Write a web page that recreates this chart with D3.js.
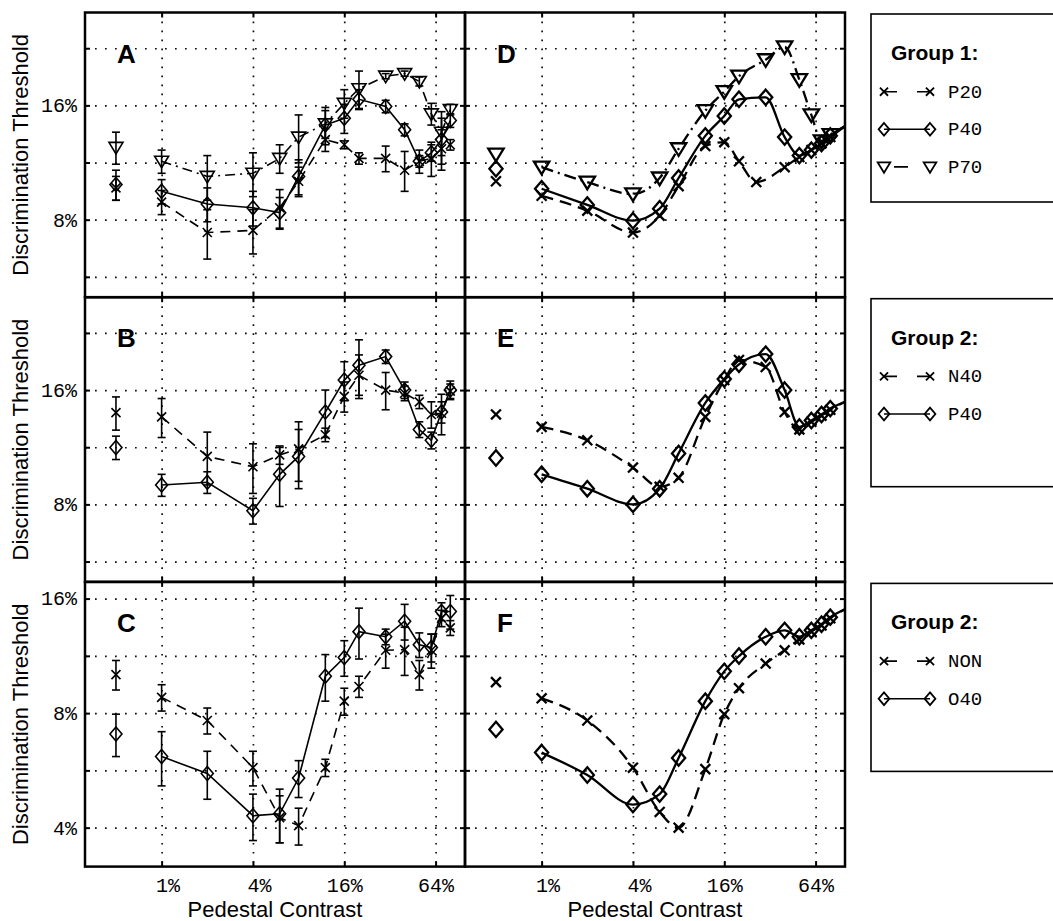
<!DOCTYPE html>
<html><head><meta charset="utf-8">
<script src="https://cdn.jsdelivr.net/npm/d3@7"></script>
<style>body{margin:0;background:#fff}svg{display:block}</style>
</head><body>
<svg id="c" width="1053" height="921"></svg>
<script>
// ---------- data ----------
// pedestal contrasts (%); 0 = no pedestal (plotted left of the 1% line)
const contrast      = [0, 1, 2, 4, 6, 8, 12, 16, 20, 30, 40, 50, 60, 70, 80];
const modelContrast = [0, 1, 2, 4, 6, 8, 12, 16, 20, 30, 40, 50, 60, 70, 80, 100];
const modelContrastDP20 = [0, 1, 2, 4, 6, 8, 12, 16, 20, 26, 40, 50, 60, 70, 80, 100];
const zeroPedestalPlotAt = 0.5;

const gridContrast = [1, 4, 16, 64];
const xTickLabels = ["1%", "4%", "16%", "64%"];
const gridThreshTop = [5.657, 8, 11.314, 16, 22.627];
const gridThreshBottom = [4, 5.657, 8, 11.314, 16];
const labelThreshTop = [8, 16];
const labelThreshBottom = [4, 8, 16];

// Panel A (data, group 1)
const aP20    = [9.7, 8.9, 7.4, 7.5, 8.6, 10.1, 13.0, 12.6, 11.6, 11.6, 10.8, 11.4, 11.6, 12.3, 12.6];
const aP20Err = [0.7, 0.65, 1.1, 1.0, 1.0, 0.9, 0.9, 0.3, 0.4, 0.9, 1.3, 0.8, 1.2, 1.5, 0.4];
const aP40    = [9.9, 9.5, 8.8, 8.6, 8.35, 10.4, 14.2, 14.8, 16.6, 15.9, 13.8, 11.4, 12.0, 13.0, 14.6];
const aP40Err = [0.9, 0.7, 0.9, 0.9, 0.8, 1.1, 1.6, 1.3, 1.0, 0.6, 0.5, 0.4, 0.6, 1.8, 0.6];
const aP70    = [12.4, 11.4, 10.4, 10.6, 11.6, 13.2, 14.3, 16.2, 17.7, 19.1, 19.4, 18.5, 15.2, 13.6, 15.6];
const aP70Err = [1.2, 0.8, 1.4, 1.4, 1.0, 1.9, 1.2, 1.4, 2.0, 0.3, 0.3, 0.5, 1.0, 1.8, 0.5];
// Panel B (data, group 2)
const bN40    = [13.95, 13.6, 10.7, 10.05, 10.8, 11.2, 12.2, 15.4, 17.5, 16.0, 15.7, 14.9, 13.8, 13.9, 15.9];
const bN40Err = [1.4, 1.6, 1.7, 1.5, 0.6, 2.0, 0.5, 1.4, 2.3, 1.8, 0.7, 0.6, 1.1, 1.7, 0.7];
const bP40    = [11.3, 9.0, 9.15, 7.7, 9.6, 10.7, 14.0, 17.0, 18.6, 19.6, 16.0, 12.6, 11.8, 14.0, 16.0];
const bP40Err = [0.8, 0.6, 0.6, 0.6, 1.7, 1.9, 2.0, 2.0, 3.1, 0.8, 0.8, 0.6, 0.6, 0.9, 0.9];
// Panel C (data, group 2)
const cNON    = [10.1, 8.8, 7.65, 5.75, 4.25, 4.05, 5.75, 8.6, 9.4, 11.7, 11.75, 10.1, 11.7, 14.2, 13.4];
const cNONErr = [0.9, 0.7, 0.6, 0.6, 0.6, 0.45, 0.3, 0.7, 0.6, 1.2, 1.7, 0.9, 1.2, 0.7, 0.6];
const cO40    = [7.05, 6.15, 5.55, 4.3, 4.35, 5.4, 10.0, 11.2, 13.1, 12.7, 13.95, 12.1, 11.9, 14.8, 14.8];
const cO40Err = [0.9, 1.0, 0.8, 0.6, 0.7, 0.6, 1.4, 1.2, 2.0, 0.6, 1.5, 0.9, 1.0, 0.8, 1.5];
// Panel D (model, group 1)
const dP20 = [10.1, 9.25, 8.45, 7.4, 8.2, 9.8, 12.5, 12.8, 11.4, 10.05, 11.0, 11.7, 12.2, 12.7, 13.2, 14.1];
const dP40 = [10.9, 9.65, 8.75, 7.95, 8.55, 10.3, 13.3, 15.0, 16.6, 16.8, 13.2, 11.8, 12.2, 12.7, 13.3, 14.1];
const dP70 = [11.9, 11.0, 10.05, 9.35, 10.3, 12.3, 15.5, 17.4, 19.1, 21.1, 22.8, 18.7, 15.1, 12.9, 13.4, 14.1];
// Panel E (model, group 2)
const eN40 = [13.8, 12.8, 11.8, 10.0, 8.9, 9.4, 13.6, 17.0, 19.2, 18.4, 14.0, 12.6, 13.2, 13.7, 14.2, 14.9];
const eP40 = [10.6, 9.6, 8.8, 8.0, 8.8, 10.9, 14.8, 17.1, 18.7, 19.9, 16.0, 12.8, 13.3, 13.8, 14.3, 14.9];
// Panel F (model, group 2)
const fNON = [9.65, 8.75, 7.65, 5.75, 4.4, 4.0, 5.7, 7.95, 9.3, 10.8, 11.7, 12.5, 13.1, 13.6, 14.2, 15.0];
const fO40 = [7.25, 6.3, 5.5, 4.6, 4.9, 6.1, 8.6, 10.3, 11.3, 12.7, 13.2, 12.7, 13.2, 13.7, 14.3, 15.0];

const legendGroups = [
  {title: "Group 1:", items: [["P20", "x", "dash"], ["P40", "diamond", "solid"], ["P70", "tri", "dashdot"]]},
  {title: "Group 2:", items: [["N40", "x", "dash"], ["P40", "diamond", "solid"]]},
  {title: "Group 2:", items: [["NON", "x", "dash"], ["O40", "diamond", "solid"]]}
];

// ---------- layout ----------
const svg = d3.select("#c");
const W = 380, H = 284.7;
const colX = [85, 465];
const rowY = [12.5, 297.2, 581.9];
const MONO = "'Liberation Mono', 'DejaVu Sans Mono', monospace";
const SANS = "'Liberation Sans', Arial, sans-serif";

const x = d3.scaleLog().domain([0.3125, 100]).range([0, W]);
const yTop = d3.scaleLog().domain([5, 28.1]).range([H, 0]);
const yBot = d3.scaleLog().domain([3.16, 17.7]).range([H, 0]);
const xPos = c => x(c === 0 ? zeroPedestalPlotAt : c);

const panels = [
  {id: "A", col: 0, row: 0, y: yTop, model: false, series: [
    {xs: contrast, v: aP20, e: aP20Err, m: "x", d: "dash"},
    {xs: contrast, v: aP40, e: aP40Err, m: "diamond", d: "solid"},
    {xs: contrast, v: aP70, e: aP70Err, m: "tri", d: "dashdot"}]},
  {id: "B", col: 0, row: 1, y: yTop, model: false, series: [
    {xs: contrast, v: bN40, e: bN40Err, m: "x", d: "dash"},
    {xs: contrast, v: bP40, e: bP40Err, m: "diamond", d: "solid"}]},
  {id: "C", col: 0, row: 2, y: yBot, model: false, series: [
    {xs: contrast, v: cNON, e: cNONErr, m: "x", d: "dash"},
    {xs: contrast, v: cO40, e: cO40Err, m: "diamond", d: "solid"}]},
  {id: "D", col: 1, row: 0, y: yTop, model: true, series: [
    {xs: modelContrastDP20, v: dP20, m: "x", d: "dash"},
    {xs: modelContrast, v: dP40, m: "diamond", d: "solid"},
    {xs: modelContrast, v: dP70, m: "tri", d: "dashdot"}]},
  {id: "E", col: 1, row: 1, y: yTop, model: true, series: [
    {xs: modelContrast, v: eN40, m: "x", d: "dash"},
    {xs: modelContrast, v: eP40, m: "diamond", d: "solid"}]},
  {id: "F", col: 1, row: 2, y: yBot, model: true, series: [
    {xs: modelContrast, v: fNON, m: "x", d: "dash"},
    {xs: modelContrast, v: fO40, m: "diamond", d: "solid"}]}
];

function markerPath(m, s) {
  if (m === "x") { const a = 4.5 * s; return `M${-a},${-a}L${a},${a}M${-a},${a}L${a},${-a}`; }
  if (m === "diamond") { return `M0,${-7*s}L${6*s},0L0,${7*s}L${-6*s},0Z`; }
  if (m === "tri") { return `M${-7*s},${-5*s}L${7*s},${-5*s}L0,${6.5*s}Z`; }
}
function dashFor(d, model) {
  if (d === "dash") return model ? "12,7" : "10,7";
  if (d === "dashdot") return model ? "12,5,2,5" : "10,5,2,5";
  return null;
}

panels.forEach(p => {
  const g = svg.append("g").attr("transform", `translate(${colX[p.col]},${rowY[p.row]})`);
  const y = p.y;
  const gridY = p.row === 2 ? gridThreshBottom : gridThreshTop;
  const labY = p.row === 2 ? labelThreshBottom : labelThreshTop;

  // dotted grid
  g.append("g").call(d3.axisBottom(x).tickValues(gridContrast).tickSize(H).tickFormat(""))
    .call(a => a.select(".domain").remove())
    .selectAll("line").attr("stroke", "#111").attr("stroke-width", 1.7).attr("stroke-dasharray", "1.7,7.3");
  g.append("g").call(d3.axisRight(y).tickValues(gridY).tickSize(W).tickFormat(""))
    .call(a => a.select(".domain").remove())
    .selectAll("line").attr("stroke", "#111").attr("stroke-width", 1.7).attr("stroke-dasharray", "1.7,8.3");

  // inner ticks on all four sides
  const tk = [
    [d3.axisLeft(y).tickValues(gridY), "translate(0,0)"],
    [d3.axisRight(y).tickValues(gridY), `translate(${W},0)`],
    [d3.axisTop(x).tickValues(gridContrast), "translate(0,0)"],
    [d3.axisBottom(x).tickValues(gridContrast), `translate(0,${H})`]
  ];
  tk.forEach(([ax, tr]) => {
    g.append("g").attr("transform", tr).call(ax.tickSize(-5).tickFormat(""))
      .call(a => a.select(".domain").remove())
      .selectAll("line").attr("stroke", "#000").attr("stroke-width", 2);
  });

  // y labels (left column)
  if (p.col === 0) {
    g.append("g").call(d3.axisLeft(y).tickValues(labY).tickSize(0).tickPadding(8).tickFormat(d => d + "%"))
      .call(a => a.select(".domain").remove())
      .selectAll("text").attr("font-family", MONO).attr("font-size", 20).attr("fill", "#000");
    g.append("text").attr("transform", `translate(${28 - colX[0]},${H / 2}) rotate(-90)`)
      .attr("text-anchor", "middle").attr("font-family", SANS).attr("font-size", 22)
      .text("Discrimination Threshold");
  }
  // x labels (bottom row)
  if (p.row === 2) {
    g.append("g").attr("transform", `translate(0,${H})`)
      .call(d3.axisBottom(x).tickValues(gridContrast).tickSize(0).tickFormat((d, i) => xTickLabels[i]))
      .call(a => a.select(".domain").remove())
      .selectAll("text").attr("font-family", MONO).attr("font-size", 20).attr("fill", "#000")
      .attr("text-anchor", "end").attr("x", 18).attr("y", 25).attr("dy", null);
    g.append("text").attr("x", W / 2).attr("y", 917 - rowY[2]).attr("text-anchor", "middle")
      .attr("font-family", SANS).attr("font-size", 22).text("Pedestal Contrast");
  }

  // series
  const lw = p.model ? 2.3 : 1.6;
  p.series.forEach(s => {
    const pts = s.xs.map((c, i) => ({c, v: s.v[i], e: s.e ? s.e[i] : 0, i}));
    const linePts = pts.filter(d => d.c !== 0);
    const line = d3.line().x(d => x(d.c)).y(d => y(d.v))
      .curve(p.model ? d3.curveMonotoneX : d3.curveLinear);
    g.append("path").datum(linePts).attr("d", line).attr("fill", "none")
      .attr("stroke", "#000").attr("stroke-width", lw)
      .attr("stroke-dasharray", dashFor(s.d, p.model));
    const mk = pts.filter(d => d.c <= 80);
    if (s.e) {
      const eb = g.append("g").attr("stroke", "#000").attr("stroke-width", 1.6);
      mk.forEach(d => {
        const xx = xPos(d.c), y1 = y(d.v - d.e), y2 = y(d.v + d.e);
        eb.append("line").attr("x1", xx).attr("x2", xx).attr("y1", y1).attr("y2", y2);
        eb.append("line").attr("x1", xx - 4).attr("x2", xx + 4).attr("y1", y1).attr("y2", y1);
        eb.append("line").attr("x1", xx - 4).attr("x2", xx + 4).attr("y1", y2).attr("y2", y2);
      });
    }
    g.append("g").selectAll("path").data(mk).join("path")
      .attr("transform", d => `translate(${xPos(d.c)},${y(d.v)})`)
      .attr("d", markerPath(s.m, p.model ? 1.1 : 1))
      .attr("fill", "none").attr("stroke", "#000")
      .attr("stroke-width", p.model ? 2.3 : 1.6);
  });

  // border
  g.append("rect").attr("width", W).attr("height", H).attr("fill", "none")
    .attr("stroke", "#000").attr("stroke-width", 2.5);
  // panel letter
  g.append("text").attr("x", 32).attr("y", 50).attr("font-family", SANS)
    .attr("font-weight", "bold").attr("font-size", 26).text(p.id);
});

// ---------- legends ----------
legendGroups.forEach((lg, k) => {
  const top = rowY[k] + 1.5;
  const g = svg.append("g").attr("transform", `translate(871,${top})`);
  g.append("rect").attr("width", 200).attr("height", 188).attr("fill", "none")
    .attr("stroke", "#000").attr("stroke-width", 1.6);
  g.append("text").attr("x", 20).attr("y", 46).attr("font-family", SANS)
    .attr("font-weight", "bold").attr("font-size", 21).text(lg.title);
  lg.items.forEach((it, j) => {
    const yy = 77.7 + j * 37.6;
    const x1 = 13, x2 = 59;
    let da = null;
    if (it[2] === "dash") da = "13,20";
    if (it[2] === "dashdot") da = "0,10,14,100";
    g.append("line").attr("x1", x1).attr("x2", x2).attr("y1", yy).attr("y2", yy)
      .attr("stroke", "#000").attr("stroke-width", 1.6).attr("stroke-dasharray", da);
    [x1, x2].forEach(xx => g.append("path").attr("transform", `translate(${xx},${yy})`)
      .attr("d", markerPath(it[1], 0.9)).attr("fill", "none").attr("stroke", "#000").attr("stroke-width", 1.8));
    g.append("text").attr("x", 77).attr("y", yy + 6).attr("font-family", MONO)
      .attr("font-size", 19).text(it[0]);
  });
});
</script>
</body></html>
